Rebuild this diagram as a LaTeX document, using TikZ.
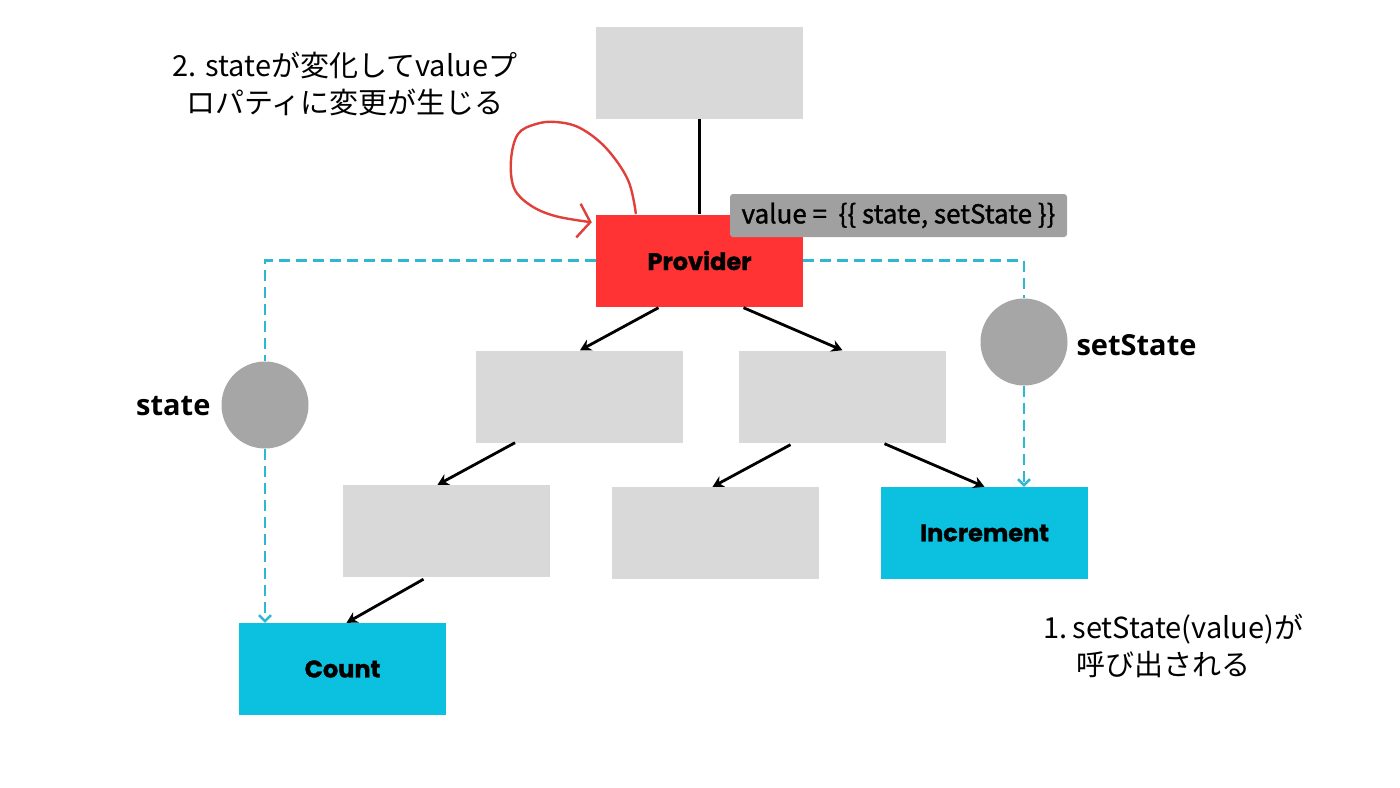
\documentclass[tikz,border=0pt]{standalone}
\usepackage{fontspec}
\setmainfont{Open Sans}
\newfontfamily\jp{Noto Sans CJK JP}
\newfontfamily\jpm{Noto Sans CJK JP}[FakeBold=1.2]
\newfontfamily\pop{Poppins}[BoldFeatures={FakeBold=1.2}]
\usetikzlibrary{arrows.meta,calc}
\definecolor{boxgray}{HTML}{D9D9D9}
\definecolor{provred}{HTML}{FF3333}
\definecolor{cyanbox}{HTML}{0CC0DF}
\definecolor{dashcyan}{HTML}{2DB7D2}
\definecolor{circgray}{HTML}{A6A6A6}
\definecolor{labgray}{HTML}{A0A0A0}
\definecolor{loopred}{HTML}{E0403A}
\begin{document}
\begin{tikzpicture}[x=1pt,y=-1pt,
  graybox/.style={fill=boxgray,minimum width=207pt,minimum height=92pt,inner sep=0pt,anchor=center},
  redbox/.style={graybox,fill=provred,font=\pop\bfseries\fontsize{24}{28}\selectfont},
  cyanbx/.style={graybox,fill=cyanbox,font=\pop\bfseries\fontsize{24}{28}\selectfont},
  dot/.style={circle,fill=circgray,minimum size=87pt,inner sep=0pt},
  conn/.style={draw=black,line width=2.8pt,-{Stealth[length=11pt,width=12pt]}},
  cdash/.style={draw=dashcyan,line width=2.8pt,dash pattern=on 11pt off 6pt},
  carrow/.style={cdash,-{Straight Barb[length=6pt,width=12pt,line width=2.4pt]}},
  biglab/.style={font=\bfseries\fontsize{29}{34}\selectfont},
  note/.style={font=\jp\fontsize{29}{37}\selectfont,align=center}
]
\useasboundingbox (0,0) rectangle (1400,787);
\fill[white] (0,0) rectangle (1400,787);
% boxes
\node[graybox] (top) at (699.5,73) {};
\node[redbox] (prov) at (699.5,260.5) {Provider};
\node[graybox] (ml) at (579,396.5) {};
\node[graybox] (mr) at (842.5,396.5) {};
\node[graybox] (bl) at (446.5,531) {};
\node[graybox] (bm) at (715.5,533) {};
\node[cyanbx] (inc) at (984.5,533) {Increment};
\node[cyanbx] (cnt) at (342.5,669) {Count};
% circles
\node[dot] (cs) at (265,405) {};
\node[dot] (css) at (1024,342) {};
\node[biglab,anchor=east] (lstate) at (214,406) {state};
\node[biglab,anchor=west] (lset) at (1073,345) {setState};
% value label
\node[fill=labgray,rounded corners=3pt,minimum width=337pt,minimum height=43pt,inner sep=0pt,
  font=\jpm\fontsize{26}{30}\selectfont] (val) at (898.5,215.5) {value =\ \ \{\{ state, setState \}\}};
% black connectors
\draw[line width=2.8pt] (top.south) -- (prov.north);
\draw[conn] ($(prov.south)+(-41,1)$) -- ($(ml.north)+(1,0)$);
\draw[conn] ($(prov.south)+(44,1)$) -- ($(mr.north)+(0,0)$);
\draw[conn] ($(ml.south)+(-64,0)$) -- ($(bl.north)+(-9,0)$);
\draw[conn] ($(mr.south)+(-52,2)$) -- ($(bm.north)+(-3,0)$);
\draw[conn] ($(mr.south)+(42,1)$) -- ($(inc.north)+(0,0)$);
\draw[conn] ($(bl.south)+(-23,2)$) -- ($(cnt.north)+(4,0)$);
% dashed cyan
\coordinate (lc) at (cs.north |- prov.west);
\coordinate (rc) at (css.north |- prov.east);
\draw[cdash] (prov.west) -- (lc) -- (cs.north);
\draw[carrow] (cs.south) -- (cs.south |- cnt.north);
\draw[cdash] (prov.east) -- (rc) -- (css.north);
\draw[carrow] (css.south) -- (css.south |- inc.north);
% red loop
\coordinate (ls) at ($(prov.north west)+(40,-1)$);
\coordinate (le) at ($(prov.north west)+(-4,8)$);
\draw[loopred,line width=2.4pt,line cap=round,line join=round,-{Straight Barb[length=12pt,width=34pt,line width=2.4pt]}]
  plot[smooth,tension=0.6] coordinates {(ls) (628,180) (606,148) (580,128) (556,122) (536,124) (518,134) (511,160) (514,188) (530,205) (555,216) (le)};
% notes
\node[note] (n2) at (345,84) {2. stateが変化してvalueプ\\ロパティに変更が生じる};
\node[note,align=left,anchor=west] (n1) at (1040,646) {1.\,setState(value)が\\\hspace{33pt}呼び出される};
\end{tikzpicture}
\end{document}
